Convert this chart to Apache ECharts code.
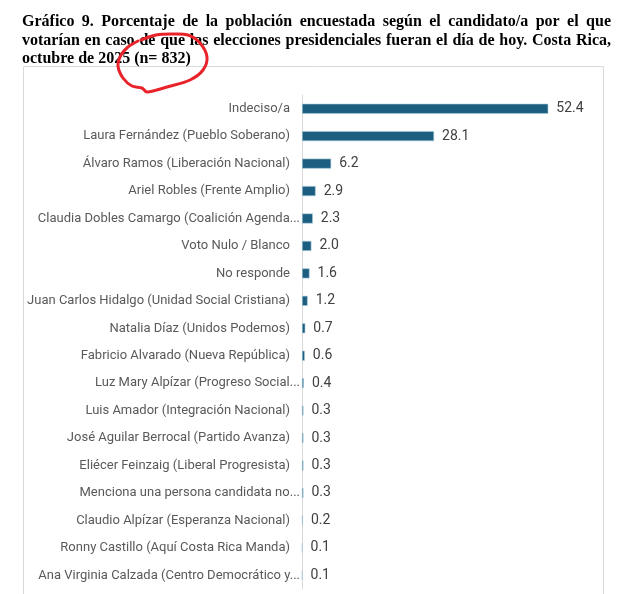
<!DOCTYPE html>
<html><head><meta charset="utf-8">
<script src="https://cdn.jsdelivr.net/npm/echarts@6/dist/echarts.min.js"></script>
<style>html,body{margin:0;padding:0;background:#fff}#c{width:631px;height:594px}</style>
</head><body><div id="c"></div>
<script>
const titleLines = [
  "Gráfico 9. Porcentaje de la población encuestada según el candidato/a por el que",
  "votarían en caso de que las elecciones presidenciales fueran el día de hoy. Costa Rica,",
  "octubre de 2025 (n= 832)"
];
const categories = [
  "Indeciso/a",
  "Laura Fernández (Pueblo Soberano)",
  "Álvaro Ramos (Liberación Nacional)",
  "Ariel Robles (Frente Amplio)",
  "Claudia Dobles Camargo (Coalición Agenda...",
  "Voto Nulo / Blanco",
  "No responde",
  "Juan Carlos Hidalgo (Unidad Social Cristiana)",
  "Natalia Díaz (Unidos Podemos)",
  "Fabricio Alvarado (Nueva República)",
  "Luz Mary Alpízar (Progreso Social...",
  "Luis Amador (Integración Nacional)",
  "José Aguilar Berrocal (Partido Avanza)",
  "Eliécer Feinzaig (Liberal Progresista)",
  "Menciona una persona candidata no...",
  "Claudio Alpízar (Esperanza Nacional)",
  "Ronny Castillo (Aquí Costa Rica Manda)",
  "Ana Virginia Calzada (Centro Democrático y..."
];
const values = [52.4, 28.1, 6.2, 2.9, 2.3, 2.0, 1.6, 1.2, 0.7, 0.6, 0.4, 0.3, 0.3, 0.3, 0.3, 0.2, 0.1, 0.1];

const chart = echarts.init(document.getElementById('c'), null, {renderer: 'canvas'});

// justified title text
const titleFont = 'bold 16px "Liberation Serif", "Times New Roman", serif';
const cv = document.createElement('canvas').getContext('2d');
cv.font = titleFont;
const tLeft = 22, tRight = 611, tTop = [14, 33, 51];
const graphics = [];
titleLines.forEach((line, i) => {
  const words = line.split(' ');
  const justify = i < titleLines.length - 1;
  const wsum = words.reduce((s, w) => s + cv.measureText(w).width, 0);
  const gap = justify ? (tRight - tLeft - wsum) / (words.length - 1) : cv.measureText(' ').width;
  let x = tLeft;
  words.forEach(w => {
    graphics.push({type: 'text', left: x, top: tTop[i], z: 10,
      style: {text: w, font: titleFont, fill: '#000'}});
    x += cv.measureText(w).width + gap;
  });
});
// chart frame
graphics.push({type: 'rect', z: 0, shape: {x: 23.5, y: 66.5, width: 580, height: 540},
  style: {fill: '#fff', stroke: '#d9d9d9', lineWidth: 1}});
// hand-drawn red annotation
graphics.push({type: 'polyline', z: 20, shape: {smooth: 0.35, points: [
  [141,40],[156,35],[172,34],[188,35],[200,43],[207,57],[203,70],[190,80],[167,87],[147,92],[142,88],
  [132,86],[123,78],[118,66],[121,55],[128,47],[138,41]
]}, style: {stroke: '#e8232a', lineWidth: 3, fill: null, lineCap: 'round', lineJoin: 'round'}});

chart.setOption({
  animation: false,
  backgroundColor: '#fff',
  graphic: graphics,
  grid: {left: 302, width: 282, top: 95, bottom: 5, containLabel: false},
  xAxis: {type: 'value', min: 0, max: 60, show: false},
  yAxis: {
    type: 'category', data: categories, inverse: true,
    axisLine: {show: true, lineStyle: {color: '#d9d9d9', width: 1}},
    axisTick: {show: false},
    axisLabel: {
      margin: 2, fontFamily: 'Roboto', fontSize: 13, color: '#595959',
      formatter: v => v.endsWith('...') ? '{t|' + v + '}' : '{n|' + v + '}',
      rich: {
        t: {fontFamily: 'Roboto', fontSize: 13, color: '#595959', padding: [0, 0, 0, 0]},
        n: {fontFamily: 'Roboto', fontSize: 13, color: '#595959', padding: [0, 10, 0, 0]}
      }
    }
  },
  series: [{
    type: 'bar', data: values, barWidth: 10,
    itemStyle: {color: '#1b5e80', borderColor: '#a9c9d9', borderWidth: 0.6},
    label: {show: true, position: 'right', distance: 8, fontFamily: 'Roboto', fontSize: 14,
      color: '#404040', formatter: p => p.value.toFixed(1)}
  }]
});
</script></body></html>
